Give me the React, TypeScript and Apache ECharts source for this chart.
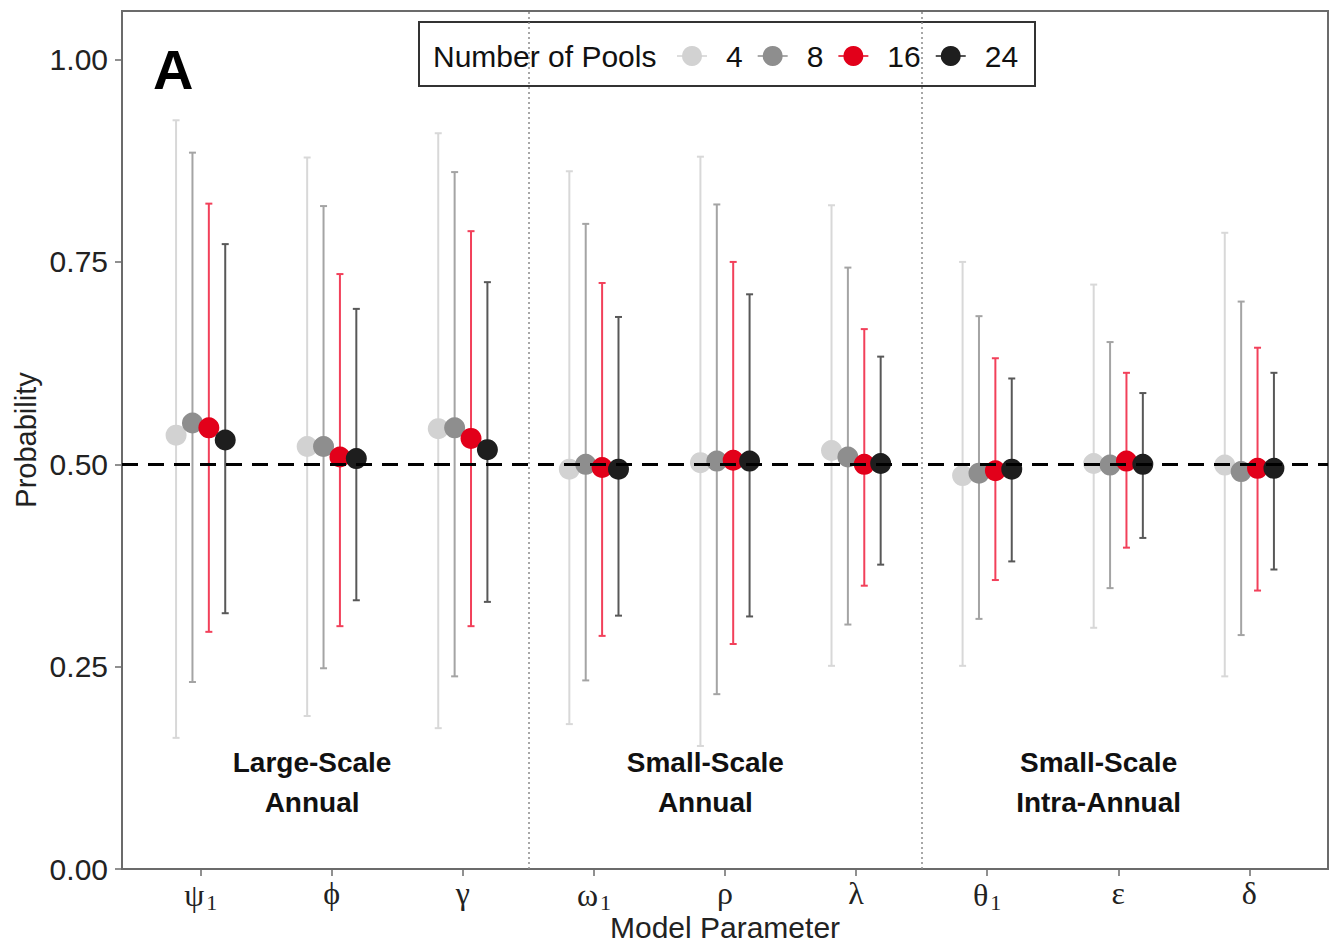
import React, { useEffect, useRef } from "react";
import * as echarts from "echarts";

// ---- Data ----
const paramSymbols = ["ψ", "ϕ", "γ", "ω", "ρ", "λ", "θ", "ε", "δ"];
const paramSubscripts = ["1", "", "", "1", "", "", "1", "", ""];
const poolNames = ["4", "8", "16", "24"];

const pool4Mean = [0.536, 0.522, 0.544, 0.494, 0.502, 0.517, 0.486, 0.501, 0.499];
const pool4Low = [0.162, 0.189, 0.174, 0.179, 0.152, 0.251, 0.251, 0.298, 0.238];
const pool4High = [0.925, 0.879, 0.909, 0.862, 0.88, 0.82, 0.75, 0.722, 0.786];

const pool8Mean = [0.551, 0.522, 0.545, 0.5, 0.504, 0.509, 0.489, 0.499, 0.491];
const pool8Low = [0.231, 0.248, 0.238, 0.233, 0.216, 0.302, 0.309, 0.347, 0.289];
const pool8High = [0.885, 0.819, 0.861, 0.797, 0.821, 0.743, 0.683, 0.651, 0.701];

const pool16Mean = [0.545, 0.509, 0.532, 0.496, 0.505, 0.5, 0.492, 0.504, 0.495];
const pool16Low = [0.293, 0.3, 0.3, 0.288, 0.278, 0.35, 0.357, 0.397, 0.344];
const pool16High = [0.822, 0.735, 0.788, 0.724, 0.75, 0.667, 0.631, 0.613, 0.644];

const pool24Mean = [0.53, 0.507, 0.518, 0.494, 0.504, 0.501, 0.494, 0.5, 0.495];
const pool24Low = [0.316, 0.332, 0.33, 0.313, 0.312, 0.376, 0.38, 0.409, 0.37];
const pool24High = [0.772, 0.692, 0.725, 0.682, 0.71, 0.633, 0.606, 0.588, 0.613];

const yTickValues = [0, 0.25, 0.5, 0.75, 1.0];
const referenceLine = 0.5;
const groupDividers = [3.5, 6.5];
const groupLabels = ["Large-Scale\nAnnual", "Small-Scale\nAnnual", "Small-Scale\nIntra-Annual"];
const groupLabelX = [1.85, 4.85, 7.85];
const groupLabelY = [0.107, 0.107, 0.107];

// ---- Styles ----
const SANS = "Liberation Sans, Arial, sans-serif";
const SERIF = "Liberation Serif, Times New Roman, serif";
const pointColors = ["#d2d2d2", "#8e8e8e", "#e2001a", "#1e1e1e"];
const barColors = ["#d8d8d8", "#a4a4a4", "#f2405a", "#585858"];
const dodge = [-0.1875, -0.0625, 0.0625, 0.1875];
const frameColor = "#6b6b6b";
const legendIcon = "path://M0,9.2H30V10.8H0Z M15,0A10,10,0,1,1,14.99,0Z";

export default function App() {
  const ref = useRef<HTMLDivElement>(null);

  useEffect(() => {
    document.body.style.margin = "0";
    if (!ref.current) return;
    const chart = echarts.init(ref.current, undefined, { renderer: "svg" });

    const means = [pool4Mean, pool8Mean, pool16Mean, pool24Mean];
    const lows = [pool4Low, pool8Low, pool16Low, pool24Low];
    const highs = [pool4High, pool8High, pool16High, pool24High];
    const positions = paramSymbols.map((_, i) => i + 1);

    const series: any[] = [];

    // error bars
    poolNames.forEach((name, k) => {
      series.push({
        type: "custom",
        name: "bar" + name,
        z: 2,
        silent: true,
        encode: { x: 0, y: [1, 2] },
        data: lows[k].map((lo, i) => [positions[i] + dodge[k], lo, highs[k][i]]),
        renderItem: (params: any, api: any) => {
          const x = api.value(0);
          const pLo = api.coord([x, api.value(1)]);
          const pHi = api.coord([x, api.value(2)]);
          const cw = 3.5;
          const st = { stroke: barColors[k], lineWidth: 2 };
          return {
            type: "group",
            children: [
              { type: "line", shape: { x1: pLo[0], y1: pLo[1], x2: pHi[0], y2: pHi[1] }, style: st },
              { type: "line", shape: { x1: pHi[0] - cw, y1: pHi[1], x2: pHi[0] + cw, y2: pHi[1] }, style: st },
              { type: "line", shape: { x1: pLo[0] - cw, y1: pLo[1], x2: pLo[0] + cw, y2: pLo[1] }, style: st },
            ],
          };
        },
      });
    });

    // points
    poolNames.forEach((name, k) => {
      series.push({
        type: "scatter",
        name,
        z: 3,
        symbol: "circle",
        symbolSize: 21,
        itemStyle: { color: pointColors[k], opacity: 1 },
        data: means[k].map((m, i) => [positions[i] + dodge[k], m]),
      });
    });

    // group dividers
    series.push({
      type: "scatter",
      name: "dividers",
      z: 1,
      data: [],
      markLine: {
        silent: true,
        symbol: ["none", "none"],
        label: { show: false },
        lineStyle: { color: "#8a8a8a", width: 1.5, type: [2, 3] },
        data: groupDividers.map((v) => ({ xAxis: v })),
      },
    });

    // reference line
    series.push({
      type: "scatter",
      name: "ref",
      z: 10,
      data: [],
      markLine: {
        silent: true,
        symbol: ["none", "none"],
        label: { show: false },
        lineStyle: { color: "#000", width: 3, type: [16, 10] },
        data: [{ yAxis: referenceLine }],
      },
    });

    // group labels
    series.push({
      type: "custom",
      name: "groups",
      z: 4,
      silent: true,
      data: groupLabels.map((_, i) => [groupLabelX[i], groupLabelY[i], i]),
      renderItem: (params: any, api: any) => {
        const p = api.coord([api.value(0), api.value(1)]);
        return {
          type: "text",
          x: p[0],
          y: p[1],
          style: {
            text: groupLabels[api.value(2)],
            fontFamily: SANS,
            fontSize: 28,
            fontWeight: "bold",
            fill: "#111",
            align: "center",
            verticalAlign: "middle",
            lineHeight: 40,
          },
        };
      },
    });

    const option: any = {
      animation: false,
      backgroundColor: "#fff",
      grid: {
        left: 122,
        right: 3,
        top: 11,
        bottom: 78,
        show: true,
        borderColor: frameColor,
        borderWidth: 2,
        containLabel: false,
        outerBoundsMode: "none",
      },
      xAxis: {
        type: "value",
        min: 0.4,
        max: 9.6,
        name: "Model Parameter",
        nameLocation: "middle",
        nameGap: 43,
        nameMoveOverlap: false,
        nameTextStyle: { fontFamily: SANS, fontSize: 30, color: "#222", lineHeight: 30, verticalAlign: "top" },
        axisLine: { show: true, lineStyle: { color: frameColor, width: 2 } },
        axisTick: { show: true, customValues: positions, length: 7, lineStyle: { color: frameColor, width: 1.5 } },
        splitLine: { show: false },
        axisLabel: {
          customValues: positions,
          margin: 8,
          formatter: (v: number) => {
            const i = Math.round(v) - 1;
            const sym = paramSymbols[i] ?? "";
            const sub = paramSubscripts[i] ?? "";
            return "{g|" + sym + "}" + (sub ? "{s|" + sub + "}" : "");
          },
          rich: {
            g: { fontFamily: SERIF, fontSize: 32, color: "#222" },
            s: { fontFamily: SERIF, fontSize: 22, color: "#222", padding: [14, 0, 0, 2] },
          },
        },
      },
      yAxis: {
        type: "value",
        min: 0,
        max: 1.06,
        name: "Probability",
        nameLocation: "middle",
        nameGap: 82,
        nameMoveOverlap: false,
        nameTextStyle: { fontFamily: SANS, fontSize: 29, color: "#222" },
        axisLine: { show: true, lineStyle: { color: frameColor, width: 2 } },
        axisTick: { show: true, customValues: yTickValues, length: 7, lineStyle: { color: frameColor, width: 1.5 } },
        splitLine: { show: false },
        axisLabel: {
          customValues: yTickValues,
          margin: 14,
          formatter: (v: number) => v.toFixed(2),
          fontFamily: SANS,
          fontSize: 30,
          color: "#222",
        },
      },
      legend: {
        data: poolNames.map((n) => ({ name: n, icon: legendIcon })),
        left: 677,
        top: 41,
        itemWidth: 30,
        itemHeight: 20,
        itemGap: 15,
        padding: 0,
        z: 10,
        selectedMode: false,
        textStyle: { fontFamily: SANS, fontSize: 30, color: "#111", padding: [0, 0, 0, 14] },
      },
      graphic: [
        {
          type: "rect",
          z: 5,
          shape: { x: 419, y: 22, width: 616, height: 64 },
          style: { fill: "#fff", stroke: "#333", lineWidth: 2 },
        },
        {
          type: "text",
          z: 6,
          x: 433,
          y: 56,
          style: { text: "Number of Pools", fontFamily: SANS, fontSize: 30, fill: "#111", verticalAlign: "middle" },
        },
        {
          type: "text",
          z: 6,
          x: 153,
          y: 69,
          style: { text: "A", fontFamily: SANS, fontSize: 56, fontWeight: "bold", fill: "#000", verticalAlign: "middle" },
        },
      ],
      series,
    };

    chart.setOption(option);
    return () => chart.dispose();
  }, []);

  return <div ref={ref} style={{ width: 1331, height: 947, overflow: "hidden" }} />;
}
